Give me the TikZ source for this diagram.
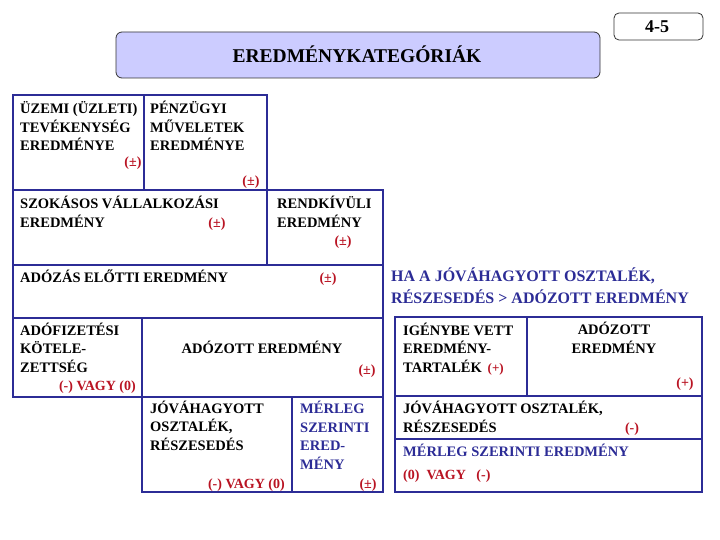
\documentclass[tikz,border=0pt]{standalone}
\usepackage{fontspec}
\setmainfont{Liberation Serif}
\definecolor{kek}{RGB}{44,44,150}
\definecolor{piros}{RGB}{185,20,35}
\definecolor{lila}{RGB}{204,204,255}

\begin{document}
\begin{tikzpicture}[x=1pt, y=-1pt,
         % keretek
         keret/.style={draw=kek, line width=2.6pt},
         % szovegek (tobbsoros node: a base az utolso sor alapvonala)
         szoveg/.style={anchor=base west, inner sep=0pt, align=left,
            font=\bfseries\fontsize{14.5}{18.5}\selectfont},
         kekszoveg/.style={szoveg, text=kek},
         jel/.style={anchor=base, inner sep=0pt, text=piros,
            font=\bfseries\fontsize{14}{16}\selectfont}]
   \useasboundingbox (0,0) rectangle (720,540);
   % fejlec
   \draw [rounded corners=6pt, fill=lila, draw=black!80, line width=.8pt] (116,32) rectangle (600,78);
   \node [anchor=base, inner sep=0pt] (cim) at (357,63) {\bfseries\fontsize{19.5}{22}\selectfont EREDMÉNYKATEGÓRIÁK};
   \draw [rounded corners=5pt, draw=black!80, line width=.8pt] (614,13) rectangle (703,40);
   \node [anchor=base, inner sep=0pt] (szam) at (657,33) {\bfseries\fontsize{18}{20}\selectfont 4-5};
   % bal oldali tabla
   \foreach \xa/\ya/\xb/\yb in {13/95/267/190, 13/190/383/265, 13/265/383/318, 13/318/383/397, 142/397/383/492} {
      \draw [keret] (\xa,\ya) rectangle (\xb,\yb);
   };
   \foreach \x/\ya/\yb in {144/95/190, 267/190/265, 142/318/397, 292/397/492} {
      \draw [keret] (\x,\ya) -- (\x,\yb);
   };
   % jobb oldali tabla
   \draw [keret] (395,317) rectangle (702,492);
   \draw [keret] (395,396) -- (702,396);
   \draw [keret] (395,439) -- (702,439);
   \draw [keret] (527,317) -- (527,396);
   % szovegek
   \node [szoveg] (uzemi) at (20,151) {ÜZEMI (ÜZLETI)\\TEVÉKENYSÉG\\EREDMÉNYE};
   \node [jel] (uzemijel) at (133,167) {(±)};
   \node [szoveg] (penzugyi) at (150,151) {PÉNZÜGYI\\MŰVELETEK\\EREDMÉNYE};
   \node [jel] (penzugyijel) at (251,186) {(±)};
   \node [szoveg] (szokasos) at (20,227) {SZOKÁSOS VÁLLALKOZÁSI\\EREDMÉNY};
   \node [jel] (szokasosjel) at (217,227) {(±)};
   \node [szoveg] (rendkivuli) at (277,227) {RENDKÍVÜLI\\EREDMÉNY};
   \node [jel] (rendkivulijel) at (343,245) {(±)};
   \node [szoveg] (adozas) at (20,282) {ADÓZÁS ELŐTTI EREDMÉNY};
   \node [jel] (adozasjel) at (328,282) {(±)};
   \node [szoveg] (adofizetesi) at (20,372) {ADÓFIZETÉSI\\KÖTELE-\\ZETTSÉG};
   \node [jel, anchor=base east] (adofizetesijel) at (136,390) {(-) VAGY (0)};
   \node [szoveg, anchor=base] (adozott) at (262,353) {ADÓZOTT EREDMÉNY};
   \node [jel] (adozottjel) at (367,374) {(±)};
   \node [szoveg] (jovahagyott) at (150,450) {JÓVÁHAGYOTT\\OSZTALÉK,\\RÉSZESEDÉS};
   \node [jel, anchor=base east] (jovahagyottjel) at (285,488) {(-) VAGY (0)};
   \node [kekszoveg] (merleg) at (300,469) {MÉRLEG\\SZERINTI\\ERED-\\MÉNY};
   \node [jel] (merlegjel) at (368,488) {(±)};
   % jobb oldal
   \node [kekszoveg, font=\bfseries\fontsize{16}{22}\selectfont] (feltetel) at (391,303) {HA A JÓVÁHAGYOTT OSZTALÉK,\\RÉSZESEDÉS > ADÓZOTT EREDMÉNY};
   \node [szoveg] (igenybe) at (403,372) {IGÉNYBE VETT\\EREDMÉNY-\\TARTALÉK \textcolor{piros}{\fontsize{13}{14}\selectfont\,(+)}};
   \node [szoveg, align=center, anchor=base] (adozott2) at (614,353) {ADÓZOTT\\EREDMÉNY};
   \node [jel] (adozott2jel) at (685,387) {(+)};
   \node [szoveg] (jovahagyott2) at (403,432) {JÓVÁHAGYOTT OSZTALÉK,\\RÉSZESEDÉS};
   \node [jel] (jovahagyott2jel) at (632,432) {(-)};
   \node [kekszoveg] (merleg2) at (403,456) {MÉRLEG SZERINTI EREDMÉNY};
   \node [jel, anchor=base west] (merleg2jel) at (403,479) {(0)\ \ VAGY\ \ \ (-)};
\end{tikzpicture}
\end{document}
